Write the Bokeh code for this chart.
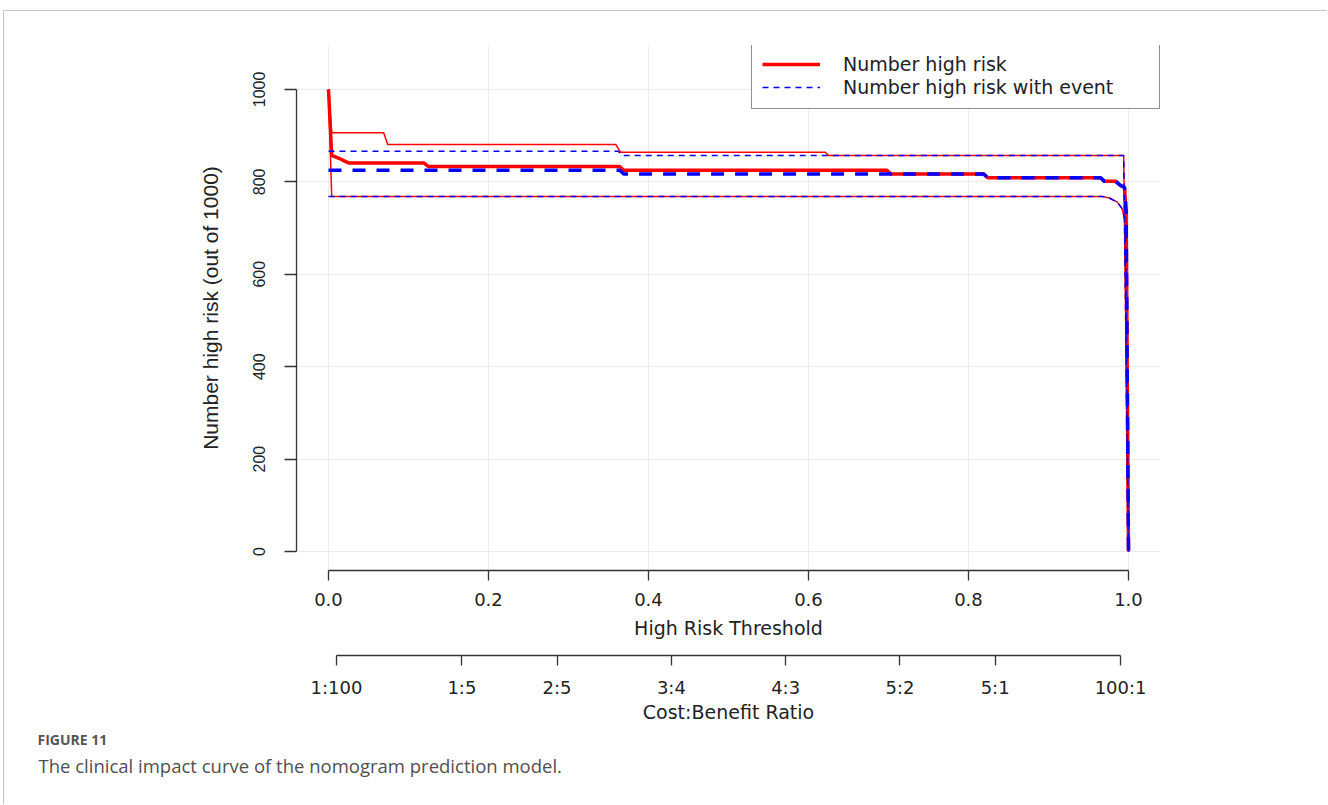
from bokeh.plotting import figure
from bokeh.models import Range1d, LinearAxis, FixedTicker, Legend, LegendItem, Title
from bokeh.embed import file_html
from bokeh.resources import INLINE

# ---------------- data ----------------
# Number high risk (out of 1000) vs high-risk threshold
t_hr = [0.0, 0.004, 0.007, 0.013, 0.019, 0.025, 0.119, 0.125, 0.364, 0.369, 0.698, 0.703,
        0.819, 0.824, 0.965, 0.970, 0.984, 0.990, 0.995, 0.997, 1.0]
n_hr = [1000, 857, 855, 851, 846, 841, 841, 833, 833, 825, 825, 817,
        817, 809, 809, 801, 801, 792, 788, 735, 0]
# upper / lower confidence bounds of number high risk
t_hr_up = [0.0, 0.004, 0.069, 0.074, 0.359, 0.365, 0.621, 0.625, 0.994, 1.0]
n_hr_up = [1000, 906, 906, 881, 881, 864, 864, 857, 857, 0]
t_hr_lo = [0.0, 0.004, 0.968, 0.976, 0.986, 0.992, 0.996, 1.0]
n_hr_lo = [1000, 768, 768, 765, 756, 742, 715, 0]
# Number high risk with event
t_ev = [0.0, 0.364, 0.369, 0.819, 0.824, 0.965, 0.970, 0.984, 0.990, 0.995, 0.997, 1.0]
n_ev = [825, 825, 817, 817, 809, 809, 801, 801, 792, 788, 735, 0]
t_ev_up = [0.0, 0.362, 0.367, 0.994, 1.0]
n_ev_up = [866, 866, 857, 857, 0]
t_ev_lo = [0.0, 0.968, 0.976, 0.986, 0.992, 0.996, 1.0]
n_ev_lo = [768, 768, 765, 756, 742, 715, 0]

x_ticks = [0.0, 0.2, 0.4, 0.6, 0.8, 1.0]
x_labels = ["0.0", "0.2", "0.4", "0.6", "0.8", "1.0"]
y_ticks = [0, 200, 400, 600, 800, 1000]
cb_ticks = [0.0099, 0.1667, 0.2857, 0.4286, 0.5714, 0.7143, 0.8333, 0.9901]
cb_labels = ["1:100", "1:5", "2:5", "3:4", "4:3", "5:2", "5:1", "100:1"]

legend_labels = ["Number high risk", "Number high risk with event"]
x_title = "High Risk Threshold"
cb_title = "Cost:Benefit Ratio"
y_title = "Number high risk (out of 1000)"
fig_tag = "FIGURE 11"
caption = "The clinical impact curve of the nomogram prediction model."

RED = "#ff0000"
BLUE = "#0000ff"
AX = "#333333"
HFONT = "DejaVu Sans"
VFONT = "Liberation Sans"

p = figure(width=1324, height=794,
           x_range=Range1d(-0.04, 1.04), y_range=Range1d(-41, 1095),
           output_backend="svg", toolbar_location=None,
           min_border_left=292, min_border_right=168, min_border_top=34, min_border_bottom=235,
           margin=(10, 0, 0, 3),
           styles={"border-top": "1px solid #c4c4c4", "border-left": "1px solid #c4c4c4"})
p.outline_line_color = None
p.background_fill_color = "white"
p.border_fill_color = "white"

# grids
p.xgrid.ticker = FixedTicker(ticks=x_ticks)
p.ygrid.ticker = FixedTicker(ticks=y_ticks)
for g in (p.xgrid[0], p.ygrid[0]):
    g.grid_line_color = "#ebebeb"
    g.grid_line_width = 1

# y axis
ya = p.yaxis[0]
ya.ticker = FixedTicker(ticks=y_ticks)
ya.bounds = (0, 1000)
ya.axis_line_color = AX
ya.axis_line_width = 1.3
ya.major_tick_line_color = AX
ya.major_tick_line_width = 1.3
ya.major_tick_out = 12
ya.major_tick_in = 0
ya.minor_tick_line_color = None
ya.major_label_orientation = "vertical"
ya.major_label_text_font = VFONT
ya.major_label_text_font_size = "16px"
ya.major_label_text_color = "#222222"
ya.major_label_standoff = 19
ya.axis_label = y_title
ya.axis_label_text_font = VFONT
ya.axis_label_text_font_size = "21px"
ya.axis_label_text_font_style = "normal"
ya.axis_label_text_color = "#222222"
ya.axis_label_standoff = 29

# primary x axis (threshold)
xa = p.xaxis[0]
xa.ticker = FixedTicker(ticks=x_ticks)
xa.major_label_overrides = dict(zip(x_ticks, x_labels))
xa.bounds = (0.0, 1.0)
xa.axis_line_color = AX
xa.axis_line_width = 1.3
xa.major_tick_line_color = AX
xa.major_tick_line_width = 1.3
xa.major_tick_out = 10
xa.major_tick_in = 0
xa.minor_tick_line_color = None
xa.major_label_text_font = HFONT
xa.major_label_text_font_size = "18px"
xa.major_label_text_color = "#222222"
xa.major_label_standoff = 12
xa.axis_label = x_title + "\n"
xa.axis_label_text_line_height = 0.65
xa.axis_label_text_font = HFONT
xa.axis_label_text_font_size = "19px"
xa.axis_label_text_font_style = "normal"
xa.axis_label_text_color = "#222222"
xa.axis_label_standoff = 8

# secondary x axis (cost:benefit)
xb = LinearAxis(ticker=FixedTicker(ticks=cb_ticks),
                major_label_overrides=dict(zip(cb_ticks, cb_labels)),
                bounds=(cb_ticks[0], cb_ticks[-1]))
xb.axis_line_color = AX
xb.axis_line_width = 1.3
xb.major_tick_line_color = AX
xb.major_tick_line_width = 1.3
xb.major_tick_out = 10
xb.major_tick_in = 0
xb.minor_tick_line_color = None
xb.major_label_text_font = HFONT
xb.major_label_text_font_size = "18px"
xb.major_label_text_color = "#222222"
xb.major_label_standoff = 11
xb.axis_label = cb_title
xb.axis_label_text_font = HFONT
xb.axis_label_text_font_size = "19px"
xb.axis_label_text_font_style = "normal"
xb.axis_label_text_color = "#222222"
xb.axis_label_standoff = 0
p.add_layout(xb, "below")

# figure caption (stacked below the axes)
p.add_layout(Title(text=fig_tag, align="left", offset=-259, standoff=4,
                   text_font="Open Sans", text_font_style="bold", text_font_size="14px",
                   text_color="#555555"), "below")
p.add_layout(Title(text=caption, align="left", offset=-258, standoff=1,
                   text_font="Open Sans", text_font_style="normal", text_font_size="18.5px",
                   text_color="#505050"), "below")

# curves: number high risk (red) then with event (blue dashed)
r_hr_up = p.line(t_hr_up, n_hr_up, line_color=RED, line_width=1.5)
r_hr_lo = p.line(t_hr_lo, n_hr_lo, line_color=RED, line_width=1.5)
r_hr = p.line(t_hr, n_hr, line_color=RED, line_width=3.5)
r_ev_up = p.line(t_ev_up, n_ev_up, line_color=BLUE, line_width=1.5, line_dash="6 5")
r_ev_lo = p.line(t_ev_lo, n_ev_lo, line_color=BLUE, line_width=1.5, line_dash="6 5")
r_ev = p.line(t_ev, n_ev, line_color=BLUE, line_width=3.5, line_dash="13 11")

legend = Legend(items=[LegendItem(label=legend_labels[0], renderers=[r_hr]),
                       LegendItem(label=legend_labels[1], renderers=[r_ev_up])],
                location=(455, 461))
legend.border_line_color = "#222222"
legend.border_line_width = 1
legend.background_fill_color = "white"
legend.background_fill_alpha = 1.0
legend.padding = 10
legend.spacing = 1
legend.margin = 0
legend.glyph_width = 58
legend.glyph_height = 20
legend.label_standoff = 23
legend.label_height = 20
legend.label_width = 306
legend.label_text_font = HFONT
legend.label_text_font_size = "19px"
legend.label_text_color = "#222222"
p.add_layout(legend)

open("out.html", "w").write(file_html(p, INLINE))
